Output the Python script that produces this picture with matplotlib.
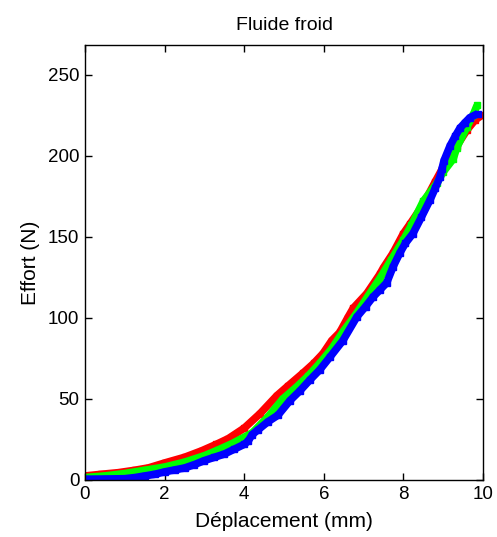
import matplotlib
matplotlib.use("Agg")
import matplotlib.pyplot as plt

plt.rcParams['font.family'] = ['Liberation Sans', 'DejaVu Sans']

# Data
red_x = [0, 0.4, 0.83, 1.25, 1.6, 2.0, 2.5, 2.93, 3.3, 3.6, 4.0, 4.4, 4.82, 5.1, 5.48, 5.75, 5.98, 6.2, 6.4,
         6.6, 6.74, 7.08, 7.41, 7.5, 7.74, 8.0, 8.17, 8.5, 8.8, 9.0, 9.34, 9.6, 9.8, 9.97]
red_y = [2.5, 3.5, 4.5, 6, 7.5, 10.5, 14, 18, 22, 25.5, 32, 41, 52, 58, 66, 72, 78, 86, 91,
         100, 106, 115, 127, 131, 140, 152, 158, 170, 184, 193, 206, 216, 222, 225]

green_x = [0, 0.5, 1.0, 1.5, 2.0, 2.5, 3.0, 3.34, 3.7, 4.2, 4.6, 4.97, 5.3, 5.6, 5.9, 6.2, 6.5, 6.8,
           7.1, 7.4, 7.7, 8.0, 8.2, 8.5, 8.84, 9.0, 9.25, 9.34, 9.6, 9.75, 9.85]
green_y = [1.5, 2.5, 4, 6, 8, 11, 15, 18.5, 22.5, 29, 39, 50, 57, 64, 72, 81, 92, 102,
           113, 124, 136, 148, 157, 172, 183, 190, 198, 205, 218, 225, 231]

blue_x = [0, 0.5, 1.0, 1.25, 1.5, 1.75, 2.0, 2.25, 2.5, 2.75, 3.0, 3.25, 3.5, 3.75, 4.0, 4.1, 4.2, 4.35,
          4.6, 4.85, 5.15, 5.4, 5.65, 5.9, 6.16, 6.48, 6.83, 7.05, 7.24, 7.4, 7.58, 7.74, 7.91, 8.05,
          8.24, 8.45, 8.67, 8.8, 8.92, 8.97, 9.02, 9.17, 9.3, 9.42, 9.55, 9.67, 9.87]
blue_y = [0.5, 0.6, 0.8, 1.5, 2.5, 3.5, 5, 6.2, 7.4, 9.5, 12, 14, 16, 19, 22, 24, 28, 31,
          36, 40, 49, 55, 61.7, 68, 76, 86, 100.6, 107, 113, 117, 121.6, 131.5, 140, 146,
          152, 162, 172.8, 180, 187, 192, 197, 206, 212, 217, 220.5, 223.5, 226]

x_ticks = [0, 2, 4, 6, 8, 10]
y_ticks = [0, 50, 100, 150, 200, 250]

fig = plt.figure(figsize=(4.97, 5.37), dpi=100)
ax = fig.add_axes([85 / 497, (537 - 480) / 537, (483 - 85) / 497, (480 - 45.5) / 537])

for xs, ys, c in [(red_x, red_y, '#ff0000'), (green_x, green_y, '#00ff00'), (blue_x, blue_y, '#0000ff')]:
    ax.plot(xs, ys, color=c, lw=5.5, solid_capstyle='butt', solid_joinstyle='round',
            marker='s', ms=5, mec=c, mfc=c, clip_on=True)

ax.set_xlim(0, 10)
ax.set_ylim(0, 268)
ax.set_xticks(x_ticks)
ax.set_yticks(y_ticks)
ax.tick_params(direction='in', top=True, right=True, length=5, width=1, labelsize=13.5, colors='black', pad=4)
for s in ax.spines.values():
    s.set_linewidth(1.0)
    s.set_color('black')

ax.set_xlabel('Déplacement (mm)', fontsize=15, labelpad=7)
ax.set_ylabel('Effort (N)', fontsize=15, labelpad=6)
ax.set_title('Fluide froid', fontsize=14, pad=11)

fig.savefig('out.png', dpi=100, facecolor='white')
